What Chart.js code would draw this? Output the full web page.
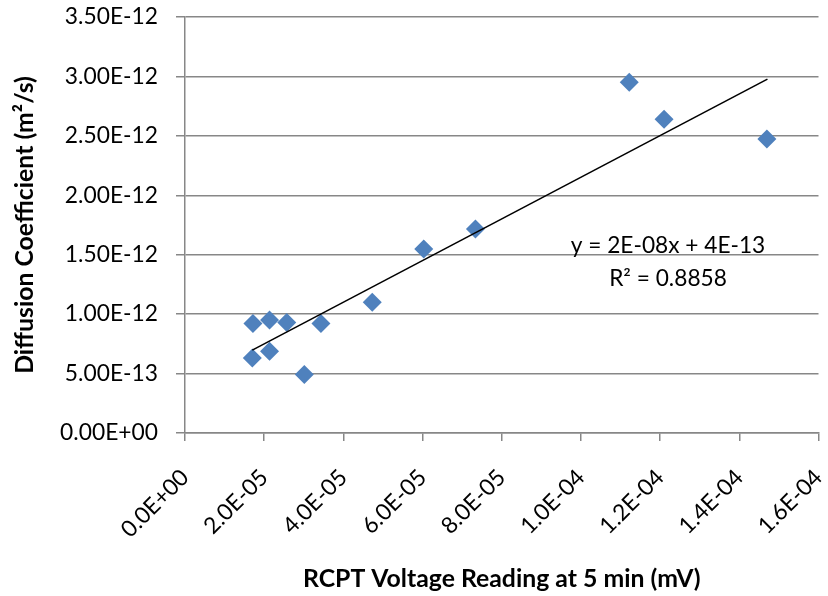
<!DOCTYPE html>
<html>
<head>
<meta charset="utf-8">
<script src="https://cdn.jsdelivr.net/npm/chart.js@4"></script>
<style>
  html, body { margin: 0; padding: 0; background: #fff; }
  #wrap { width: 828px; height: 596px; }
</style>
</head>
<body>
<div id="wrap"><canvas id="c" width="828" height="596"></canvas></div>
<script>
// RCPT voltage reading at 5 min (mV)
const voltage = [1.70e-5, 1.716e-5, 2.135e-5, 2.135e-5, 2.570e-5, 3.014e-5, 3.434e-5, 4.730e-5, 6.03e-5, 7.335e-5, 1.122e-4, 1.210e-4, 1.4696e-4];
// Diffusion coefficient (m²/s)
const diffusion = [0.632e-12, 0.922e-12, 0.950e-12, 0.688e-12, 0.930e-12, 0.492e-12, 0.922e-12, 1.101e-12, 1.548e-12, 1.716e-12, 2.952e-12, 2.640e-12, 2.474e-12];
// Linear trendline endpoints as drawn in the picture
const trendX = [1.70e-5, 1.471e-4];
const trendY = [0.697e-12, 2.977e-12];
const equationLines = ['y = 2E-08x + 4E-13', 'R\u00B2 = 0.8858'];
const xTitle = 'RCPT Voltage Reading at 5 min (mV)';
const yTitle = 'Diffusion Coefficient (m\u00B2/s)';

const FONT = 'Lato, Carlito, Calibri, sans-serif';
const GRID = '#878787';

function expFmt(v, digits) {
  let s = Number(v).toExponential(digits).toUpperCase();
  const m = s.match(/^(-?[\d.]+)E([+-])(\d+)$/);
  if (!m) return s;
  const e = m[3].length < 2 ? '0' + m[3] : m[3];
  return m[1] + 'E' + m[2] + e;
}

function zeroPad(scale) {
  scale.paddingTop = 0; scale.paddingBottom = 0;
  scale.paddingLeft = 0; scale.paddingRight = 0;
}

const equationPlugin = {
  id: 'equation',
  afterDatasetsDraw(chart) {
    const ctx = chart.ctx;
    ctx.save();
    ctx.fillStyle = '#000';
    ctx.font = '22.7px ' + FONT;
    ctx.textAlign = 'center';
    ctx.textBaseline = 'middle';
    ctx.fillText(equationLines[0], 668, 246);
    ctx.fillText(equationLines[1], 668, 279);
    ctx.restore();
  }
};

const pts = voltage.map((x, i) => ({ x: x, y: diffusion[i] }));
const trend = trendX.map((x, i) => ({ x: x, y: trendY[i] }));

new Chart(document.getElementById('c'), {
  type: 'scatter',
  data: {
    datasets: [
      {
        label: 'Trendline',
        data: trend,
        showLine: true,
        borderColor: '#000',
        borderWidth: 1.6,
        pointRadius: 0,
        fill: false
      },
      {
        label: 'Data',
        data: pts,
        pointStyle: 'rectRot',
        pointRadius: 9.5,
        pointBackgroundColor: '#4F81BD',
        pointBorderColor: '#4F81BD',
        pointBorderWidth: 0
      }
    ]
  },
  options: {
    responsive: false,
    animation: false,
    devicePixelRatio: 1,
    layout: { padding: { left: 0, right: 6, top: 17, bottom: 0 } },
    plugins: { legend: { display: false }, tooltip: { enabled: false } },
    scales: {
      x: {
        type: 'linear',
        min: 0,
        max: 1.6e-4,
        ticks: {
          stepSize: 2e-5,
          color: '#000',
          font: { family: FONT, size: 22.8 },
          minRotation: 45,
          maxRotation: 45,
          padding: 23,
          callback: (v) => expFmt(v, 1)
        },
        grid: { display: true, drawOnChartArea: false, drawTicks: true, tickLength: 8, color: GRID, lineWidth: 1.5 },
        border: { display: true, color: GRID, width: 1.5 },
        title: { display: true, text: xTitle, color: '#000', font: { family: FONT, size: 24.8, weight: 'bold' }, padding: { top: 4, bottom: 2 } },
        afterFit(scale) { scale.height = 163; zeroPad(scale); }
      },
      y: {
        type: 'linear',
        min: 0,
        max: 3.5e-12,
        ticks: {
          stepSize: 5e-13,
          color: '#000',
          font: { family: FONT, size: 22.8 },
          padding: 18,
          callback: (v) => expFmt(v, 2)
        },
        grid: { display: true, drawOnChartArea: true, drawTicks: true, tickLength: 9, color: GRID, lineWidth: 1.5 },
        border: { display: true, color: GRID, width: 1.5 },
        title: { display: true, text: yTitle, color: '#000', font: { family: FONT, size: 24.8, weight: 'bold' }, padding: { top: 10, bottom: 0 } },
        afterFit(scale) { scale.width = 185; zeroPad(scale); }
      }
    }
  },
  plugins: [equationPlugin]
});
</script>
</body>
</html>
